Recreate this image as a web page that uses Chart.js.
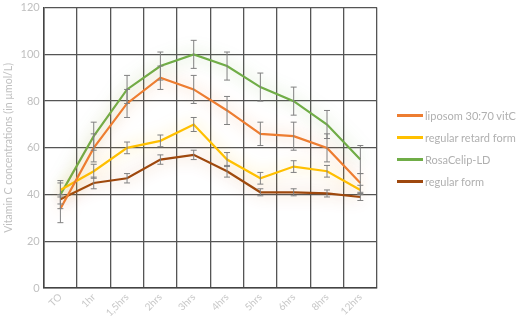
<!DOCTYPE html>
<html>
<head>
<meta charset="utf-8">
<script src="https://cdn.jsdelivr.net/npm/chart.js@4"></script>
<style>
  body { margin: 0; background: #fff; overflow: hidden; }
  #wrap { position: relative; width: 518px; height: 325px; overflow: hidden; }
  #chart { position: absolute; left: 0; top: -3px; }
  #legend { position: absolute; left: 397px; top: 104px; font-family: Lato, sans-serif; font-size: 11px; color: #b0b0b0; }
  #legend div { height: 22px; display: flex; align-items: center; white-space: nowrap; }
  #legend span.sw { display: inline-block; width: 26px; height: 3px; margin-right: 2px; }
</style>
</head>
<body>
<div id="wrap"><canvas id="chart" width="518" height="328"></canvas><div id="legend"></div></div>
<script>
// data
const labels = ["TO", "1hr", "1,5hrs", "2hrs", "3hrs", "4hrs", "5hrs", "6hrs", "8hrs", "12hrs"];
const liposom = [34, 60, 79, 90, 85, 76, 66, 65, 60, 45];
const liposomErr = [6, 6, 6, 5, 6, 6, 5, 6, 6, 4];
const retard = [42, 50, 60, 63, 70, 55, 47, 52, 50, 42];
const retardErr = [3, 3, 2.5, 2.5, 3, 3, 2.5, 2.5, 2.5, 2];
const rosa = [40, 65, 85, 95, 100, 95, 86, 80, 70, 55];
const rosaErr = [6, 6, 6, 6, 6, 6, 6, 6, 6, 6];
const regular = [38, 45, 47, 55, 57, 50, 41, 41, 40.5, 39];
const regularErr = [2, 2.5, 2, 2, 2, 2.5, 1.5, 1.5, 1.5, 1.5];
const yTicks = [0, 20, 40, 60, 80, 100, 120];

const errors = [liposomErr, retardErr, rosaErr, regularErr];

// soft glow round each line, like the original
const glowPlugin = {
    id: "glow",
    beforeDatasetDraw(chart, args) {
        const ds = chart.data.datasets[args.index];
        chart.ctx.save();
        chart.ctx.shadowColor = ds.glow;
        chart.ctx.shadowBlur = 16;
    },
    afterDatasetDraw(chart) {
        chart.ctx.restore();
    }
};

// error bars drawn through the y scale
const errorBarPlugin = {
    id: "errorBars",
    afterDatasetsDraw(chart) {
        const ctx = chart.ctx;
        const y = chart.scales.y;
        ctx.save();
        ctx.strokeStyle = "#808080";
        ctx.lineWidth = 1;
        chart.data.datasets.forEach((ds, i) => {
            const meta = chart.getDatasetMeta(i);
            meta.data.forEach((pt, j) => {
                const e = errors[i][j];
                const top = y.getPixelForValue(ds.data[j] + e);
                const bot = y.getPixelForValue(ds.data[j] - e);
                ctx.beginPath();
                ctx.moveTo(pt.x, top); ctx.lineTo(pt.x, bot);
                ctx.moveTo(pt.x - 3, top); ctx.lineTo(pt.x + 3, top);
                ctx.moveTo(pt.x - 3, bot); ctx.lineTo(pt.x + 3, bot);
                ctx.stroke();
            });
        });
        ctx.restore();
    }
};

function line(label, data, color, glow) {
    return {
        label: label,
        data: data,
        borderColor: color,
        backgroundColor: color,
        borderWidth: 2.2,
        pointRadius: 0,
        tension: 0,
        glow: glow
    };
}

const config = {
    type: "line",
    data: {
        labels: labels,
        datasets: [
            line("liposom 30:70 vitC", liposom, "#ED7D31", "rgba(237,125,49,0.55)"),
            line("regular retard form", retard, "#FFC000", "rgba(255,192,0,0.55)"),
            line("RosaCelip-LD", rosa, "#70AD47", "rgba(112,173,71,0.55)"),
            line("regular form", regular, "#9E480E", "rgba(197,90,17,0.45)")
        ]
    },
    options: {
        responsive: false,
        animation: false,
        layout: { padding: { top: 0, right: 141, left: 0, bottom: 3 } },
        plugins: {
            legend: { display: false },
            tooltip: { enabled: false }
        },
        scales: {
            x: {
                offset: true,
                grid: { offset: true, color: "#555", lineWidth: 1.3, drawTicks: false },
                border: { color: "#444", width: 1.5 },
                ticks: {
                    color: "#c8c8c8",
                    font: { family: "Lato", size: 10 },
                    minRotation: 45, maxRotation: 45,
                    padding: 3
                }
            },
            y: {
                min: 0,
                max: 120,
                afterBuildTicks(axis) {
                    axis.ticks = yTicks.map(v => ({ value: v }));
                },
                grid: { color: "#555", lineWidth: 1.3, drawTicks: false },
                border: { color: "#444", width: 1.5 },
                ticks: {
                    color: "#c0c0c0",
                    font: { family: "Lato", size: 11 },
                    padding: 4
                },
                title: {
                    display: true,
                    text: "Vitamin C concentrations (in µmol/L)",
                    color: "#c0c0c0",
                    font: { family: "Lato", size: 10.5 },
                    padding: 2
                }
            }
        }
    },
    plugins: [glowPlugin, errorBarPlugin]
};

let chart = new Chart(document.querySelector("#chart"), config);

// html legend built from the datasets
const legend = document.querySelector("#legend");
chart.data.datasets.forEach(ds => {
    const row = document.createElement("div");
    const sw = document.createElement("span");
    sw.className = "sw";
    sw.style.background = ds.borderColor;
    row.appendChild(sw);
    row.appendChild(document.createTextNode(ds.label));
    legend.appendChild(row);
});
</script>
</body>
</html>
